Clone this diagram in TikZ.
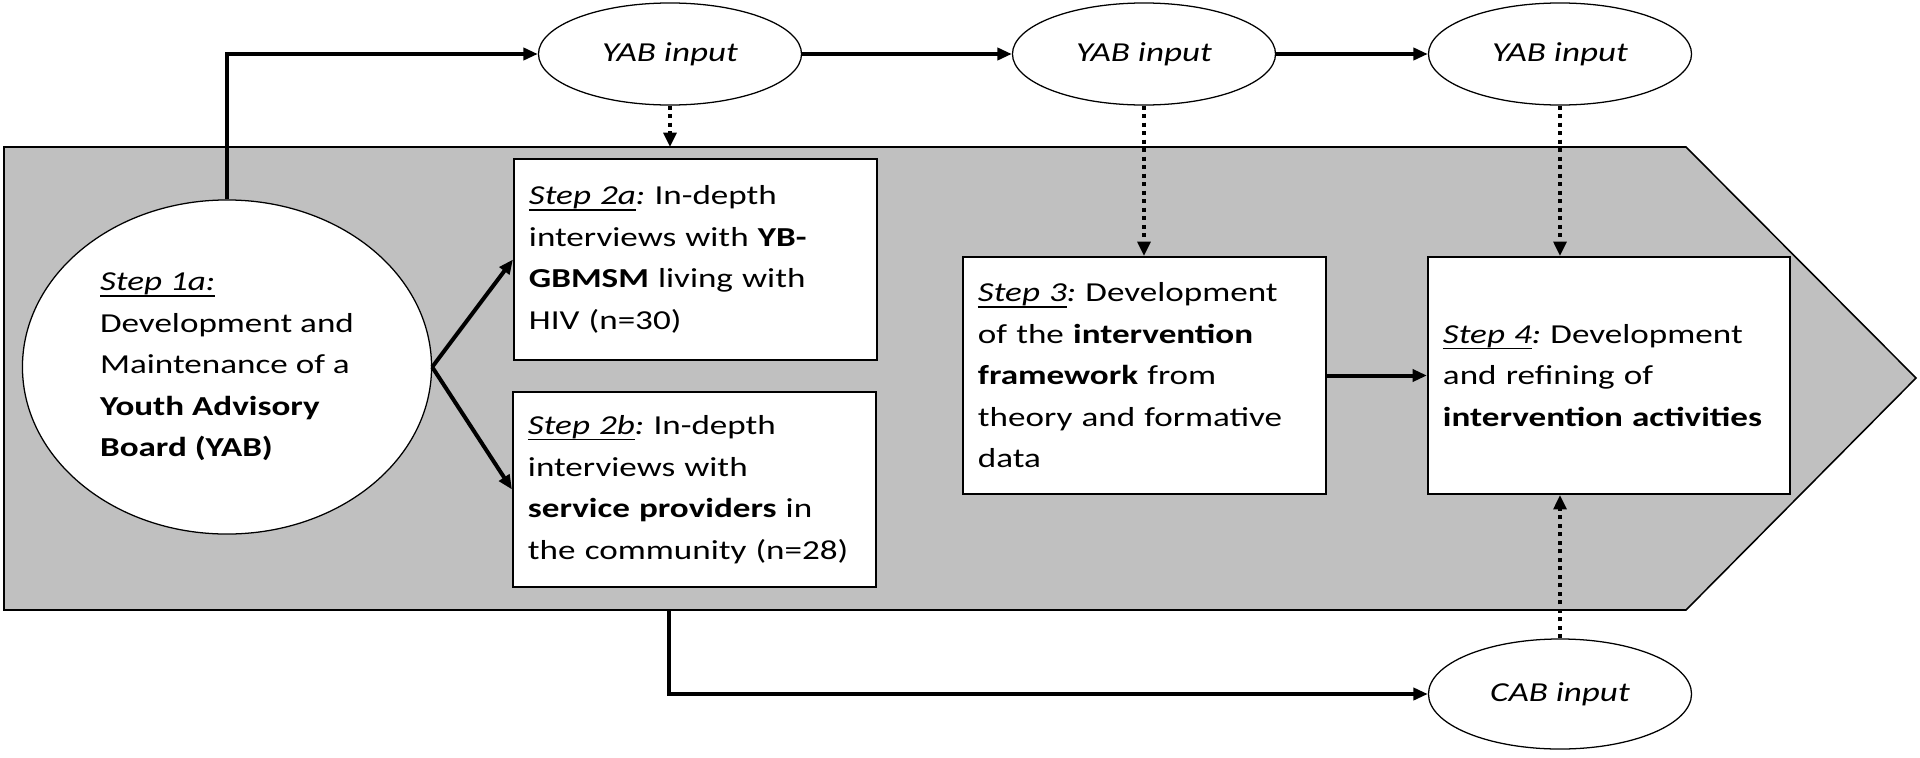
\documentclass[tikz,border=0pt]{standalone}
\usepackage{fontspec}
\setmainfont{Carlito}[FakeStretch=1.28]
\usetikzlibrary{arrows.meta,shapes.geometric}
\definecolor{panelgray}{RGB}{192,192,192}
\frenchspacing
\newcommand\stepul[1]{\setbox0\hbox{#1}\rlap{\rule[-4.2pt]{\wd0}{1.3pt}}\box0}
\begin{document}
\begin{tikzpicture}[x=0.025cm,y=-0.025cm,
  txt/.style={font=\fontsize{19.5pt}{29.5pt}\selectfont\frenchspacing},
  stepbox/.style={draw=black, line width=1.4pt, fill=white, rectangle, inner xsep=0.375cm, inner ysep=0pt, align=left, txt},
  inell/.style={ellipse, draw=black, line width=0.9pt, fill=white, inner sep=0pt, txt},
  solidarrow/.style={line width=2.85pt, -{Triangle[length=0.36cm,width=0.3cm]}},
  dotarrow/.style={line width=2.5pt, dash pattern=on 2.85pt off 3.2pt, -{Triangle[length=0.36cm,width=0.32cm]}},
  panel/.style={fill=panelgray, draw=black, line width=1.1pt}
]
\useasboundingbox (0,0) rectangle (1920,757);
\fill[white] (0,0) rectangle (1920,757);
% gray arrow panel
\draw[panel] (4,147) -- (1686,147) -- (1916,378) -- (1686,610) -- (4,610) -- cycle;
\coordinate (gt) at (670,147);
\coordinate (gb) at (669,610);
% nodes
\node[inell, minimum width=10.225cm, minimum height=8.35cm, align=left] (s1a) at (227,367)
  {\stepul{\itshape Step 1a:}\\Development and\\Maintenance of a\\\textbf{Youth Advisory}\\\textbf{Board (YAB)}};
\node[inell, minimum width=6.575cm, minimum height=2.55cm] (yab1) at (670,54) {\itshape YAB input};
\node[inell, minimum width=6.575cm, minimum height=2.55cm] (yab2) at (1144,54) {\itshape YAB input};
\node[inell, minimum width=6.575cm, minimum height=2.55cm] (yab3) at (1560,54) {\itshape YAB input};
\node[inell, minimum width=6.575cm, minimum height=2.75cm] (cab) at (1560,694) {\itshape CAB input};
\node[stepbox, text width=8.325cm, minimum height=5.025cm] (s2a) at (695.5,259.5)
  {\stepul{\itshape Step 2a}{\itshape:} In-depth\\interviews with \textbf{YB-}\\\textbf{GBMSM} living with\\HIV (n=30)};
\node[stepbox, text width=8.325cm, minimum height=4.875cm] (s2b) at (694.5,489.5)
  {\stepul{\itshape Step 2b}{\itshape:} In-depth\\interviews with\\\textbf{service providers} in\\the community (n=28)};
\node[stepbox, text width=8.325cm, minimum height=5.925cm] (s3) at (1144.5,375.5)
  {\stepul{\itshape Step 3}{\itshape:} Development\\of the \textbf{intervention}\\\textbf{framework} from\\theory and formative\\data};
\node[stepbox, text width=8.3cm, minimum height=5.925cm] (s4) at (1609,375.5)
  {\stepul{\itshape Step 4}{\itshape:} Development\\and refining of\\\textbf{intervention activities}};
% connectors
\draw[solidarrow] (s1a.north) |- (yab1.west);
\draw[solidarrow] (yab1.east) -- (yab2.west);
\draw[solidarrow] (yab2.east) -- (yab3.west);
\draw[solidarrow] (s1a.east) -- (s2a.west);
\draw[solidarrow] (s1a.east) -- (s2b.west);
\draw[solidarrow] (s3.east) -- (s4.west);
\draw[dotarrow] (yab1.south) -- (gt);
\draw[dotarrow] (yab2.south) -- (yab2.south |- s3.north);
\draw[dotarrow] (yab3.south) -- (yab3.south |- s4.north);
\draw[dotarrow] (cab.north) -- (cab.north |- s4.south);
\draw[solidarrow] (gb) |- (cab.west);
\end{tikzpicture}
\end{document}
